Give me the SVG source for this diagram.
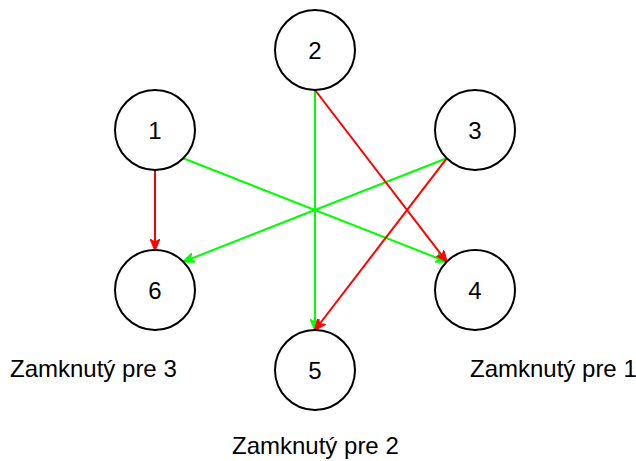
<svg xmlns="http://www.w3.org/2000/svg" width="636" height="461" viewBox="0 0 636 461">
<style>
.node circle{fill:#fff;stroke:#000;stroke-width:2}
text{font-family:"Liberation Sans",Arial,sans-serif;font-size:24px;fill:#000}
.num{text-anchor:middle;dominant-baseline:central}
.r{stroke:#ff0000;stroke-width:2;fill:none;marker-end:url(#ar)}
.g{stroke:#00ff00;stroke-width:2;fill:none;marker-end:url(#ag)}
</style>
<defs>
<marker id="ar" viewBox="0 0 12 10" refX="11" refY="5" markerWidth="12" markerHeight="10" markerUnits="userSpaceOnUse" orient="auto"><path d="M0,0 L12,5 L0,10 L3,5 Z" fill="#ff0000" stroke="#ff0000" stroke-width="1"/></marker>
<marker id="ag" viewBox="0 0 12 10" refX="11" refY="5" markerWidth="12" markerHeight="10" markerUnits="userSpaceOnUse" orient="auto"><path d="M0,0 L12,5 L0,10 L3,5 Z" fill="#00ff00" stroke="#00ff00" stroke-width="1"/></marker>
</defs>
<g id="connectors">
<line class="g" x1="315" y1="90" x2="315" y2="330"/>
<line class="g" x1="183.3" y1="158.3" x2="446.7" y2="261.7"/>
<line class="g" x1="446.7" y1="158.3" x2="183.3" y2="261.7"/>
<line class="r" x1="155" y1="170" x2="155" y2="250"/>
<line class="r" x1="315" y1="90" x2="446.7" y2="261.7"/>
<line class="r" x1="446.7" y1="158.3" x2="315" y2="330"/>
</g>
<g id="node1" class="node"><circle cx="155" cy="130" r="40"/><text class="num" x="155" y="130">1</text></g>
<g id="node2" class="node"><circle cx="315" cy="50" r="40"/><text class="num" x="315" y="50">2</text></g>
<g id="node3" class="node"><circle cx="475" cy="130" r="40"/><text class="num" x="475" y="130">3</text></g>
<g id="node4" class="node"><circle cx="475" cy="290" r="40"/><text class="num" x="475" y="290">4</text></g>
<g id="node5" class="node"><circle cx="315" cy="370" r="40"/><text class="num" x="315" y="370">5</text></g>
<g id="node6" class="node"><circle cx="155" cy="290" r="40"/><text class="num" x="155" y="290">6</text></g>
<g id="labels">
<text x="10" y="377">Zamknutý pre 3</text>
<text x="470" y="377">Zamknutý pre 1</text>
<text x="232" y="454">Zamknutý pre 2</text>
</g>
</svg>
